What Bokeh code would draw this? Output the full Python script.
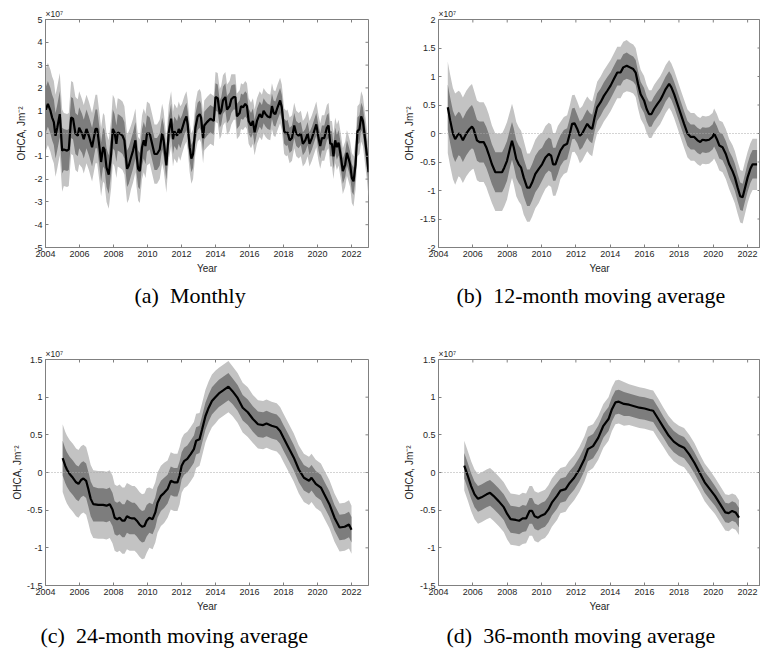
import numpy as np
from bokeh.plotting import figure
from bokeh.layouts import column, row
from bokeh.models import FixedTicker, Span, Title, Range1d
from bokeh.embed import file_html
from bokeh.resources import INLINE

# ---------------- data (OHCA in units of 1e7 J m^-2) ----------------
X_TICKS = [2004, 2006, 2008, 2010, 2012, 2014, 2016, 2018, 2020, 2022]
X_TICK_LABELS = ["2004", "2006", "2008", "2010", "2012", "2014", "2016", "2018", "2020", "2022"]

# (a) Monthly
YEARS_A = [2004.00, 2004.14, 2004.29, 2004.39, 2004.49, 2004.59, 2004.69, 2004.84, 2004.98, 2005.08,
           2005.27, 2005.37, 2005.51, 2005.62, 2005.76, 2005.90, 2005.98, 2006.15, 2006.25, 2006.41,
           2006.55, 2006.74, 2006.94, 2007.04, 2007.19, 2007.27, 2007.39, 2007.47, 2007.59, 2007.72,
           2007.86, 2007.96, 2008.06, 2008.17, 2008.25, 2008.37, 2008.53, 2008.64, 2008.80, 2008.90,
           2009.03, 2009.15, 2009.29, 2009.35, 2009.45, 2009.55, 2009.68, 2009.78, 2009.88, 2009.97,
           2010.13, 2010.27, 2010.41, 2010.56, 2010.72, 2010.86, 2010.95, 2011.11, 2011.25, 2011.39,
           2011.50, 2011.58, 2011.74, 2011.84, 2011.93, 2012.03, 2012.17, 2012.29, 2012.37, 2012.48,
           2012.58, 2012.68, 2012.82, 2012.95, 2013.07, 2013.15, 2013.27, 2013.34, 2013.50, 2013.70,
           2013.90, 2014.00, 2014.13, 2014.25, 2014.34, 2014.44, 2014.58, 2014.68, 2014.83, 2014.93,
           2015.07, 2015.17, 2015.26, 2015.42, 2015.50, 2015.62, 2015.75, 2015.85, 2015.95, 2016.09,
           2016.20, 2016.30, 2016.44, 2016.60, 2016.73, 2016.83, 2016.95, 2017.07, 2017.22, 2017.32,
           2017.42, 2017.52, 2017.65, 2017.80, 2017.90, 2018.04, 2018.16, 2018.24, 2018.36, 2018.50,
           2018.63, 2018.75, 2018.89, 2019.02, 2019.14, 2019.28, 2019.42, 2019.53, 2019.67, 2019.80,
           2019.93, 2020.06, 2020.16, 2020.26, 2020.40, 2020.55, 2020.65, 2020.75, 2020.85, 2020.94,
           2021.04, 2021.14, 2021.24, 2021.38, 2021.49, 2021.63, 2021.73, 2021.83, 2021.92, 2022.02,
           2022.12, 2022.24, 2022.35, 2022.47, 2022.57, 2022.67, 2022.76, 2022.90, 2023.00]
OHCA_A = [1.0, 1.3, 1.0, 0.7, 0.5, -0.1, 0.25, 0.85, -0.75, -0.7,
          -0.75, -0.7, 0.7, 0.65, 0.0, -0.1, 0.25, 0.0, -0.25, 0.2,
          -0.1, -0.6, 0.2, 0.2, -0.7, -1.25, -0.6, -0.7, -1.5, -1.8,
          -0.9, 0.2, 0.05, -0.45, 0.05, 0.0, -0.1, -0.3, -1.55, -1.4,
          -1.05, -0.75, -0.3, -0.9, -1.55, -1.65, -0.6, -0.3, -0.55, 0.0,
          0.0, -0.45, -0.9, -0.9, -0.7, 0.0, -0.3, -1.4, 0.05, 0.65,
          -0.25, 0.1, -0.1, 0.2, 0.0, 0.2, 0.55, 0.75, 0.35, -0.6,
          -1.1, -0.9, 0.25, 0.75, 0.85, 0.7, -0.2, 0.35, 0.5, 0.65,
          0.55, 1.6, 1.55, 0.85, 1.0, 1.45, 1.6, 1.05, 1.2, 1.5,
          1.6, 1.6, 0.75, 0.9, 1.2, 1.15, 1.3, 1.2, 0.55, 0.35,
          0.55, 0.05, 0.55, 0.85, 0.7, 1.0, 0.85, 0.75, 0.7, 1.2,
          0.9, 0.85, 1.15, 1.45, 1.15, 0.1, 0.0, 0.05, -0.3, -0.2,
          0.35, 0.0, -0.1, 0.0, -0.45, -0.3, 0.0, -0.45, -0.2, 0.1,
          0.4, -0.2, -0.55, -0.2, -0.2, 0.25, 0.35, -0.45, -0.45, -1.0,
          -0.3, -0.6, -0.4, -1.05, -1.65, -1.35, -0.85, -1.1, -1.35, -1.95,
          -2.1, -1.35, 0.1, 0.2, 0.75, 0.55, 0.0, -0.9, -1.7]
BAND_YEARS_A = [2004, 2005, 2006, 2007, 2008, 2009, 2010, 2011, 2012, 2013,
                2014, 2015, 2016, 2017, 2018, 2019, 2020, 2021, 2022]
LIGHT_HW_A = [1.8, 1.6, 1.5, 1.5, 1.5, 1.4, 1.3, 1.2, 1.1, 1.1,
              1.1, 1.0, 1.0, 1.0, 1.0, 1.0, 1.0, 1.0, 1.1]
DARK_HW_A = [1.0, 0.9, 0.85, 0.85, 0.8, 0.8, 0.7, 0.65, 0.6, 0.6,
             0.6, 0.55, 0.55, 0.55, 0.55, 0.5, 0.55, 0.55, 0.6]
Y_TICKS_A = [-5, -4, -3, -2, -1, 0, 1, 2, 3, 4, 5]
Y_TICK_LABELS_A = ["-5", "-4", "-3", "-2", "-1", "0", "1", "2", "3", "4", "5"]

# (b) 12-month moving average
YEARS_B = [2004.54, 2004.68, 2004.84, 2004.97, 2005.17, 2005.26, 2005.42, 2005.62, 2005.81, 2005.95,
           2006.04, 2006.24, 2006.39, 2006.63, 2006.78, 2006.92, 2007.11, 2007.31, 2007.50, 2007.70,
           2007.83, 2007.99, 2008.18, 2008.28, 2008.38, 2008.53, 2008.67, 2008.81, 2008.96, 2009.16,
           2009.31, 2009.45, 2009.64, 2009.84, 2010.03, 2010.23, 2010.42, 2010.56, 2010.67, 2010.81,
           2010.95, 2011.10, 2011.30, 2011.49, 2011.65, 2011.78, 2011.92, 2012.08, 2012.23, 2012.37,
           2012.50, 2012.66, 2012.81, 2012.95, 2013.09, 2013.24, 2013.44, 2013.63, 2013.83, 2014.02,
           2014.22, 2014.41, 2014.60, 2014.76, 2014.96, 2015.15, 2015.34, 2015.48, 2015.62, 2015.77,
           2015.97, 2016.12, 2016.26, 2016.40, 2016.55, 2016.75, 2016.90, 2017.04, 2017.23, 2017.43,
           2017.56, 2017.72, 2017.91, 2018.11, 2018.30, 2018.50, 2018.69, 2018.89, 2019.08, 2019.24,
           2019.37, 2019.57, 2019.76, 2019.96, 2020.05, 2020.21, 2020.35, 2020.54, 2020.73, 2020.93,
           2021.12, 2021.26, 2021.42, 2021.57, 2021.71, 2021.85, 2022.00, 2022.16, 2022.29, 2022.43,
           2022.55]
OHCA_B = [0.46, 0.23, 0.0, -0.1, 0.0, -0.02, -0.12, 0.0, 0.08, 0.12,
          0.08, -0.12, -0.15, -0.15, -0.24, -0.36, -0.54, -0.68, -0.68, -0.68,
          -0.6, -0.48, -0.24, -0.13, -0.24, -0.45, -0.54, -0.6, -0.77, -0.95,
          -0.95, -0.86, -0.71, -0.62, -0.54, -0.42, -0.36, -0.39, -0.54, -0.54,
          -0.42, -0.3, -0.21, -0.18, 0.0, 0.17, 0.18, 0.08, -0.04, 0.0,
          0.08, 0.17, 0.11, 0.08, 0.28, 0.46, 0.55, 0.66, 0.75, 0.84,
          0.96, 1.07, 1.07, 1.16, 1.19, 1.16, 1.13, 1.07, 0.87, 0.69,
          0.58, 0.43, 0.34, 0.34, 0.43, 0.52, 0.58, 0.66, 0.78, 0.87,
          0.81, 0.69, 0.52, 0.34, 0.17, 0.0, -0.06, -0.06, -0.12, -0.15,
          -0.11, -0.12, -0.11, -0.06, 0.0, -0.1, -0.21, -0.24, -0.36, -0.54,
          -0.66, -0.77, -0.95, -1.1, -1.12, -0.95, -0.77, -0.62, -0.54, -0.54,
          -0.54]
BAND_YEARS_B = [2004, 2005, 2006, 2007, 2008, 2009, 2010, 2011, 2012, 2013,
                2014, 2015, 2016, 2017, 2018, 2019, 2020, 2021, 2022]
LIGHT_HW_B = [0.8, 0.75, 0.7, 0.68, 0.65, 0.6, 0.55, 0.5, 0.48, 0.45,
              0.45, 0.43, 0.42, 0.42, 0.42, 0.42, 0.44, 0.46, 0.45]
DARK_HW_B = [0.4, 0.38, 0.36, 0.35, 0.33, 0.32, 0.29, 0.27, 0.25, 0.24,
             0.23, 0.22, 0.22, 0.22, 0.22, 0.22, 0.23, 0.24, 0.25]
Y_TICKS_B = [-2, -1.5, -1, -0.5, 0, 0.5, 1, 1.5, 2]
Y_TICK_LABELS_B = ["-2", "-1.5", "-1", "-0.5", "0", "0.5", "1", "1.5", "2"]

# (c) 24-month moving average
YEARS_C = [2005.01, 2005.16, 2005.26, 2005.42, 2005.61, 2005.80, 2005.94, 2006.09, 2006.23, 2006.39,
           2006.52, 2006.66, 2006.81, 2007.10, 2007.39, 2007.59, 2007.78, 2007.94, 2008.07, 2008.21,
           2008.36, 2008.52, 2008.65, 2008.79, 2008.95, 2009.10, 2009.24, 2009.37, 2009.53, 2009.68,
           2009.82, 2009.95, 2010.11, 2010.30, 2010.46, 2010.59, 2010.79, 2010.98, 2011.18, 2011.37,
           2011.56, 2011.76, 2011.89, 2012.01, 2012.15, 2012.34, 2012.53, 2012.73, 2012.86, 2013.06,
           2013.21, 2013.41, 2013.60, 2013.79, 2013.99, 2014.20, 2014.45, 2014.76, 2015.00, 2015.30,
           2015.60, 2015.90, 2016.20, 2016.50, 2016.80, 2017.00, 2017.30, 2017.60, 2017.80, 2018.00,
           2018.30, 2018.60, 2018.90, 2019.20, 2019.50, 2019.65, 2019.90, 2020.20, 2020.40, 2020.70,
           2021.00, 2021.30, 2021.60, 2021.85, 2022.00]
OHCA_C = [0.19, 0.09, 0.04, -0.02, -0.07, -0.13, -0.15, -0.10, -0.08, -0.11,
          -0.22, -0.35, -0.42, -0.43, -0.43, -0.44, -0.42, -0.49, -0.60, -0.62,
          -0.60, -0.64, -0.64, -0.58, -0.60, -0.61, -0.61, -0.64, -0.69, -0.72,
          -0.71, -0.64, -0.60, -0.62, -0.53, -0.40, -0.31, -0.27, -0.22, -0.11,
          -0.13, -0.13, -0.04, 0.09, 0.15, 0.18, 0.24, 0.31, 0.42, 0.44,
          0.57, 0.75, 0.86, 0.95, 1.0, 1.05, 1.09, 1.14, 1.08, 0.99,
          0.86, 0.80, 0.71, 0.64, 0.63, 0.65, 0.62, 0.60, 0.55, 0.46,
          0.33, 0.20, 0.04, -0.07, -0.11, -0.07, -0.15, -0.20, -0.29, -0.42,
          -0.60, -0.73, -0.72, -0.69, -0.76]
BAND_YEARS_C = [2005, 2006, 2007, 2008, 2009, 2010, 2011, 2012, 2013, 2014,
                2015, 2016, 2017, 2018, 2019, 2020, 2021, 2022]
LIGHT_HW_C = [0.45, 0.45, 0.45, 0.44, 0.43, 0.4, 0.38, 0.36, 0.35, 0.34,
              0.33, 0.32, 0.32, 0.32, 0.32, 0.32, 0.32, 0.32]
DARK_HW_C = [0.23, 0.23, 0.22, 0.22, 0.21, 0.2, 0.19, 0.18, 0.18, 0.18,
             0.17, 0.17, 0.17, 0.17, 0.17, 0.17, 0.17, 0.17]
Y_TICKS_C = [-1.5, -1, -0.5, 0, 0.5, 1, 1.5]
Y_TICK_LABELS_C = ["-1.5", "-1", "-0.5", "0", "0.5", "1", "1.5"]

# (d) 36-month moving average
YEARS_D = [2005.5, 2005.7, 2005.9, 2006.1, 2006.3, 2006.5, 2006.8, 2007.0, 2007.2, 2007.5,
           2007.8, 2008.0, 2008.2, 2008.5, 2008.7, 2008.9, 2009.1, 2009.3, 2009.45, 2009.6,
           2009.8, 2010.0, 2010.2, 2010.4, 2010.6, 2010.9, 2011.1, 2011.4, 2011.6, 2011.9,
           2012.2, 2012.5, 2012.7, 2013.0, 2013.3, 2013.6, 2013.9, 2014.1, 2014.3, 2014.5,
           2014.8, 2015.1, 2015.4, 2015.7, 2016.0, 2016.3, 2016.5, 2016.8, 2017.1, 2017.4,
           2017.7, 2018.0, 2018.3, 2018.6, 2018.9, 2019.2, 2019.5, 2019.8, 2020.1, 2020.4,
           2020.7, 2020.9, 2021.1, 2021.3, 2021.5]
OHCA_D = [0.09, -0.04, -0.18, -0.29, -0.35, -0.33, -0.29, -0.27, -0.31, -0.38,
          -0.46, -0.55, -0.62, -0.63, -0.64, -0.61, -0.61, -0.51, -0.51, -0.58,
          -0.60, -0.57, -0.55, -0.49, -0.40, -0.31, -0.24, -0.22, -0.15, -0.07,
          0.04, 0.18, 0.31, 0.35, 0.46, 0.62, 0.71, 0.84, 0.93, 0.94,
          0.91, 0.90, 0.88, 0.86, 0.85, 0.83, 0.82, 0.71, 0.60, 0.49,
          0.41, 0.36, 0.33, 0.24, 0.13, 0.0, -0.13, -0.22, -0.31, -0.42,
          -0.53, -0.54, -0.51, -0.53, -0.60]
BAND_YEARS_D = [2005, 2006, 2007, 2008, 2009, 2010, 2011, 2012, 2013, 2014,
                2015, 2016, 2017, 2018, 2019, 2020, 2021]
LIGHT_HW_D = [0.33, 0.33, 0.33, 0.34, 0.33, 0.32, 0.3, 0.3, 0.29, 0.29,
              0.27, 0.27, 0.26, 0.26, 0.25, 0.24, 0.23]
DARK_HW_D = [0.17, 0.17, 0.17, 0.18, 0.17, 0.17, 0.16, 0.16, 0.16, 0.16,
             0.15, 0.15, 0.14, 0.14, 0.14, 0.13, 0.13]
Y_TICKS_D = Y_TICKS_C
Y_TICK_LABELS_D = Y_TICK_LABELS_C

CAPTIONS = ["(a)\u2002Monthly", "(b)\u200212-month moving average",
            "(c)\u200224-month moving average", "(d)\u200236-month moving average"]
SCALE_NOTE = "\u00d710\u2077"

# ---------------- styling ----------------
LIGHT = "#c3c3c3"
DARK = "#7d7d7d"
AXIS_COL = "#808080"
TEXT_COL = "#262626"
SANS = "Liberation Sans"
SERIF = "Liberation Serif"


def style_axis(ax, ticks, labels):
    ax.ticker = FixedTicker(ticks=ticks)
    ax.major_label_overrides = {t: l for t, l in zip(ticks, labels)}
    ax.axis_line_color = AXIS_COL
    ax.major_tick_line_color = AXIS_COL
    ax.minor_tick_line_color = None
    ax.major_tick_in = 3
    ax.major_tick_out = 0
    ax.major_label_text_font = SANS
    ax.major_label_text_color = TEXT_COL
    ax.major_label_text_font_size = "9px"
    ax.major_label_standoff = 3
    ax.axis_label_text_font = SANS
    ax.axis_label_text_font_style = "normal"
    ax.axis_label_text_font_size = "10px"
    ax.axis_label_text_color = TEXT_COL


def panel(years, vals, band_years, light_hw, dark_hw, yticks, ylabels, x_end,
          width, height, left, right, top, bottom, caption, cap_offset, cap_standoff,
          ylab_standoff):
    years = np.asarray(years, dtype=float)
    vals = np.asarray(vals, dtype=float)
    idx = np.clip(np.searchsorted(band_years, np.floor(years), side="right") - 1, 0, len(band_years) - 1)
    lh = np.asarray(light_hw)[idx]
    dh = np.asarray(dark_hw)[idx]

    p = figure(width=width, height=height, output_backend="svg", toolbar_location=None,
               x_range=Range1d(X_TICKS[0], x_end), y_range=Range1d(yticks[0], yticks[-1]),
               min_border_left=left, min_border_right=right,
               min_border_top=top, min_border_bottom=bottom)
    p.grid.visible = False
    p.outline_line_color = AXIS_COL
    p.background_fill_color = "white"
    p.border_fill_color = "white"

    style_axis(p.xaxis[0], X_TICKS, X_TICK_LABELS)
    p.xaxis[0].axis_label = "Year"
    p.xaxis[0].axis_label_standoff = 3
    style_axis(p.yaxis[0], yticks, ylabels)
    p.yaxis[0].axis_label = "OHCA, Jm\u207b\u00b2"
    p.yaxis[0].axis_label_standoff = ylab_standoff

    p.varea(x=years, y1=vals - lh, y2=vals + lh, fill_color=LIGHT)
    p.varea(x=years, y1=vals - dh, y2=vals + dh, fill_color=DARK)
    p.add_layout(Span(location=0, dimension="width", line_color="#a8a8a8",
                      line_dash="1 2", line_width=1))
    p.line(years, vals, line_color="black", line_width=2.2)

    # inward ticks on the top and right edges of the box
    p.ray(x=X_TICKS, y=[yticks[-1]] * len(X_TICKS), length=3, length_units="screen",
          angle=-np.pi / 2, line_color=AXIS_COL, line_width=1)
    p.ray(x=[x_end] * len(yticks), y=yticks, length=3, length_units="screen",
          angle=np.pi, line_color=AXIS_COL, line_width=1)

    p.add_layout(Title(text=SCALE_NOTE, align="left", offset=0, standoff=1,
                       text_font=SANS, text_font_size="8.5px", text_font_style="normal",
                       text_color=TEXT_COL), "above")

    p.add_layout(Title(text=caption, align="left", offset=cap_offset, standoff=cap_standoff,
                       text_font=SERIF, text_font_size="22px", text_font_style="normal",
                       text_color="black"), "below")
    return p


pa = panel(YEARS_A, OHCA_A, BAND_YEARS_A, LIGHT_HW_A, DARK_HW_A, Y_TICKS_A, Y_TICK_LABELS_A,
           2023.0, 380, 330, 45, 12, 19, 83, CAPTIONS[0], 89, 9, 4)
pb = panel(YEARS_B, OHCA_B, BAND_YEARS_B, LIGHT_HW_B, DARK_HW_B, Y_TICKS_B, Y_TICK_LABELS_B,
           2022.75, 380, 330, 58, 0, 19, 83, CAPTIONS[1], 18, 9, 2)
pc = panel(YEARS_C, OHCA_C, BAND_YEARS_C, LIGHT_HW_C, DARK_HW_C, Y_TICKS_C, Y_TICK_LABELS_C,
           2023.0, 380, 325, 45, 12, 28, 70, CAPTIONS[2], -5, 13, 1)
pd_ = panel(YEARS_D, OHCA_D, BAND_YEARS_D, LIGHT_HW_D, DARK_HW_D, Y_TICKS_D, Y_TICK_LABELS_D,
            2022.75, 380, 325, 58, 0, 29, 70, CAPTIONS[3], 8, 13, 2)

layout = column(row(pa, pb), row(pc, pd_))
open("out.html", "w").write(file_html(layout, INLINE))
